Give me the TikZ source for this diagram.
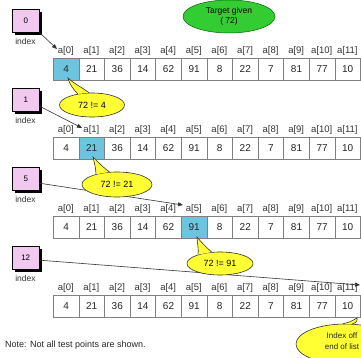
\documentclass[tikz,border=0pt]{standalone}
\usepackage{fontspec}
\setmainfont{Liberation Sans}
\usetikzlibrary{arrows.meta,calc,shapes.geometric,shadows}
\definecolor{cellhi}{HTML}{6CC4DF}
\definecolor{boxpink}{HTML}{F0C8F0}
\definecolor{tgreen}{HTML}{33CC33}
\definecolor{byellow}{HTML}{FFFF33}
\definecolor{cellline}{HTML}{808080}
\begin{document}
\begin{tikzpicture}[x=1pt,y=-1pt,
  cell/.style={draw=cellline, line width=0.6pt, minimum width=25.6pt, minimum height=22pt,
    inner sep=0pt, anchor=north west, font=\fontsize{10}{12}\selectfont, text=black!85},
  lab/.style={font=\fontsize{9.5}{11}\selectfont, inner sep=0pt, text=black!80},
  idx/.style={draw=black, fill=boxpink, line width=0.5pt, minimum width=27pt, minimum height=23pt,
    inner sep=0pt, anchor=north west, font=\fontsize{8}{10}\selectfont,
    drop shadow={shadow xshift=2.5pt, shadow yshift=-2.5pt, fill=black, opacity=1}},
  idxlab/.style={font=\fontsize{8.5}{10}\selectfont, inner sep=0pt, text=black!80},
  target/.style={ellipse, draw=green!40!black, fill=tgreen, line width=0.5pt, inner sep=0pt,
    minimum width=92pt, minimum height=33pt, align=center, font=\fontsize{8.5}{10}\selectfont},
  bub/.style={ellipse, draw=black!80, fill=byellow, line width=0.6pt, inner sep=0pt,
    font=\fontsize{9}{10.5}\selectfont, align=center},
  tail/.style={draw=black!80, fill=byellow, line width=0.6pt},
  arr/.style={draw=black!80, line width=0.6pt, -{Triangle[length=5pt,width=4pt]}},
]
\path[use as bounding box] (0,0) rectangle (361,358);
\clip (0,0) rectangle (361,358);

\node[target] (tg) at (229,16.5) {Target given\\( 72)};

\foreach \r/\top/\hi/\num in {1/58/0/0, 2/137/1/1, 3/216/5/5, 4/295/99/12}{
  \foreach \v [count=\i from 0] in {4,21,36,14,62,91,8,22,7,81,77,10}{
    \ifnum\i=\hi\relax\def\cf{cellhi}\else\def\cf{white}\fi
    \node[cell,fill=\cf] (c\r-\i) at ({53+25.6*\i},\top) {\v};
    \node[lab] (l\r-\i) at ({53+25.6*\i+12.8},\top-7) {a[\i]};
  }
  \node[idx] (b\r) at (12,\top-49) {\num};
  \node[idxlab] (n\r) at (25.5,\top-17) {index};
}

% pointer arrows
\coordinate (t1) at (57,49);
\coordinate (t2) at (82,128);
\coordinate (t3) at (183,205);
\coordinate (t4) at (360,285);
\draw[arr] (b1.south east) -- (t1);
\draw[arr] (b2.-25) -- (t2);
\draw[arr] (b3.-18) -- (t3);
\draw[arr] (b4.-10) -- (t4);

% callouts
\coordinate (p1) at (68,78);
\node[bub, minimum width=65pt, minimum height=24pt] (q1) at (92,105) {72 != 4};
\path[tail] (q1.142) .. controls (74,90) and (69,84) .. (p1) .. controls (73,83) and (83,88) .. (q1.104);

\coordinate (p2) at (93,157);
\node[bub, minimum width=70pt, minimum height=25pt] (q2) at (117,184.5) {72 != 21};
\path[tail] (q2.154) .. controls (96,168) and (94,162) .. (p2) .. controls (99,163) and (105,169) .. (q2.121);

\coordinate (p3) at (197,237);
\node[bub, minimum width=66pt, minimum height=23pt] (q3) at (220,263.5) {72 != 91};
\path[tail] (q3.158) .. controls (199,249) and (197,243) .. (p3) .. controls (202,243) and (207,248) .. (q3.126);

\coordinate (p4) at (357,318);
\node[bub, minimum width=98pt, minimum height=40pt] (q4) at (345,344) {};
\path[tail] (q4.95) .. controls (350,322) .. (p4) .. controls (357,322) .. (q4.70);
\node[inner sep=0pt, align=center, font=\fontsize{8}{10.5}\selectfont, text=black!85] (q4t) at (342,341) {Index off\\end of list};

\node[anchor=west, inner sep=0pt, font=\fontsize{9}{11}\selectfont, text=black!85] (note) at (5,345) {Note: Not all test points are shown.};
\end{tikzpicture}
\end{document}
